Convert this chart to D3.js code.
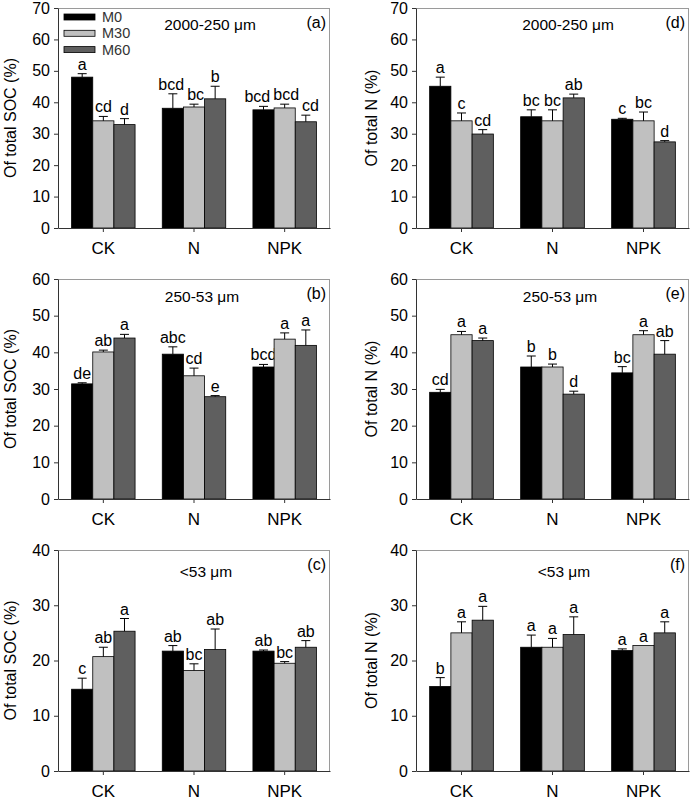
<!DOCTYPE html>
<html><head><meta charset="utf-8">
<script src="https://cdn.jsdelivr.net/npm/d3@7"></script>
<style>body{margin:0;background:#fff}svg{display:block;font-family:Arial,"Liberation Sans",sans-serif}</style>
</head><body><svg id="chart" width="692" height="800"></svg>
<script>
// ---------- data ----------
const categories = ["CK", "N", "NPK"];
const series = ["M0", "M30", "M60"];
const sizeLabels = ["2000-250 \u03bcm", "250-53 \u03bcm", "<53 \u03bcm"];
const yTitles = ["Of total SOC (%)", "Of total N (%)"];
const panelTags = [["(a)", "(b)", "(c)"], ["(d)", "(e)", "(f)"]];
const yMaxByRow = [70, 60, 40];
const yTickStep = 10;

// rows = categories (CK, N, NPK), columns = series (M0, M30, M60)
const socMacro        = [[48.0, 34.1, 32.9], [38.1, 38.5, 41.1], [37.6, 38.2, 33.8]];
const socMacroErr     = [[1.1, 1.4, 1.9], [4.6, 0.9, 4.0], [1.1, 1.2, 2.1]];
const socMacroLetters = [["a", "cd", "d"], ["bcd", "bc", "b"], ["bcd", "bcd", "cd"]];

const socMicro        = [[31.4, 40.1, 43.9], [39.5, 33.6, 27.9], [36.0, 43.6, 41.9]];
const socMicroErr     = [[0.3, 0.5, 1.0], [2.0, 2.1, 0.3], [0.7, 1.7, 4.2]];
const socMicroLetters = [["de", "ab", "a"], ["abc", "cd", "e"], ["bcd", "a", "a"]];

const socSilt         = [[14.8, 20.7, 25.3], [21.7, 18.2, 22.0], [21.7, 19.5, 22.4]];
const socSiltErr      = [[2.0, 1.7, 2.3], [1.0, 1.2, 3.7], [0.2, 0.3, 1.2]];
const socSiltLetters  = [["c", "ab", "a"], ["ab", "bc", "ab"], ["ab", "bc", "ab"]];

const nMacro          = [[45.1, 34.1, 29.9], [35.4, 34.1, 41.4], [34.6, 34.1, 27.4]];
const nMacroErr       = [[2.9, 2.5, 1.4], [2.2, 3.5, 1.2], [0.3, 2.8, 0.4]];
const nMacroLetters   = [["a", "c", "cd"], ["bc", "bc", "ab"], ["c", "bc", "d"]];

const nMicro          = [[29.1, 44.8, 43.2], [36.0, 36.0, 28.6], [34.4, 44.8, 39.5]];
const nMicroErr       = [[0.8, 0.9, 0.7], [3.0, 0.8, 0.8], [1.7, 1.1, 3.7]];
const nMicroLetters   = [["cd", "a", "a"], ["b", "b", "d"], ["bc", "a", "ab"]];

const nSilt           = [[15.3, 25.0, 27.3], [22.4, 22.4, 24.7], [21.8, 22.7, 25.0]];
const nSiltErr        = [[1.6, 2.0, 2.5], [2.2, 1.6, 3.2], [0.3, 0.0, 2.0]];
const nSiltLetters    = [["b", "a", "a"], ["a", "a", "a"], ["a", "a", "a"]];

// ---------- layout / style ----------
const seriesColors = {M0: "#000000", M30: "#c0c0c0", M60: "#5f5f5f"};
const colX = [[58, 330], [416, 689]];
const rowY = [[8, 228], [279, 499], [550, 771]];
const titleDx = [152, 144, 148];
const titleDy = [22, 23, 27];
const yTitleDx = [-42, -39];

const panels = [
  {col: 0, row: 0, v: socMacro, e: socMacroErr, l: socMacroLetters},
  {col: 0, row: 1, v: socMicro, e: socMicroErr, l: socMicroLetters},
  {col: 0, row: 2, v: socSilt, e: socSiltErr, l: socSiltLetters},
  {col: 1, row: 0, v: nMacro, e: nMacroErr, l: nMacroLetters},
  {col: 1, row: 1, v: nMicro, e: nMicroErr, l: nMicroLetters},
  {col: 1, row: 2, v: nSilt, e: nSiltErr, l: nSiltLetters}
];

const svg = d3.select("#chart");
const AX = "#333", FR = "#9a9a9a";
const FONT = "Arial, 'Liberation Sans', sans-serif";

panels.forEach(p => {
  const [x0, x1] = colX[p.col], [y0, y1] = rowY[p.row];
  const w = x1 - x0, h = y1 - y0;
  const ymax = yMaxByRow[p.row];
  const g = svg.append("g").attr("transform", `translate(${x0},${y0})`);

  const x = d3.scaleBand().domain(categories).range([0, w]).paddingInner(0.3).paddingOuter(0.15);
  const xs = d3.scaleBand().domain(series).range([0, x.bandwidth()]);
  const y = d3.scaleLinear().domain([0, ymax]).range([h, 0]);

  // frame (top, right)
  g.append("line").attr("x1", 0).attr("x2", w).attr("y1", 0.5).attr("y2", 0.5).attr("stroke", FR);
  g.append("line").attr("x1", w - 0.5).attr("x2", w - 0.5).attr("y1", 0).attr("y2", h).attr("stroke", FR);

  // bars, error bars, letters
  categories.forEach((c, i) => {
    const labels = [];
    series.forEach((s, j) => {
      const v = p.v[i][j], e = p.e[i][j];
      const bx = x(c) + xs(s), bw = xs.bandwidth(), cx = bx + bw / 2;
      g.append("rect").attr("x", bx).attr("y", y(v)).attr("width", bw).attr("height", y(0) - y(v))
        .attr("fill", seriesColors[s]).attr("stroke", "#000").attr("stroke-width", 0.8);
      if (e > 0) {
        g.append("line").attr("x1", cx).attr("x2", cx).attr("y1", y(v)).attr("y2", y(v + e))
          .attr("stroke", "#000").attr("stroke-width", 1);
        g.append("line").attr("x1", cx - 4.5).attr("x2", cx + 4.5).attr("y1", y(v + e)).attr("y2", y(v + e))
          .attr("stroke", "#000").attr("stroke-width", 1);
      }
      const t = g.append("text").attr("x", cx).attr("y", y(v + e) - 4).attr("text-anchor", "middle")
        .attr("font-size", 16).attr("fill", "#000").text(p.l[i][j]);
      labels.push({t, cx, by: y(v + e) - 4, w: t.node().getComputedTextLength()});
    });
    // push apart neighbouring letters that would collide
    for (let it = 0; it < 6; it++) {
      for (let j = 0; j < labels.length - 1; j++) {
        const a = labels[j], b = labels[j + 1];
        if (Math.abs(a.by - b.by) < 13) {
          const ov = (a.cx + a.w / 2 + 3) - (b.cx - b.w / 2);
          if (ov > 0) { a.cx -= ov / 2; b.cx += ov / 2; }
        }
      }
    }
    labels.forEach(L => L.t.attr("x", L.cx));
  });

  // axes
  const ya = g.append("g").call(d3.axisLeft(y).tickValues(d3.range(0, ymax + 1, yTickStep))
    .tickSize(4).tickSizeOuter(0).tickPadding(4));
  ya.select(".domain").attr("stroke", AX);
  ya.selectAll(".tick line").attr("stroke", AX);
  ya.selectAll("text").attr("font-size", 16).attr("font-family", FONT).attr("fill", "#000");

  const xa = g.append("g").attr("transform", `translate(0,${h})`)
    .call(d3.axisBottom(x).tickSize(4).tickSizeOuter(0).tickPadding(10));
  xa.select(".domain").attr("stroke", AX);
  xa.selectAll(".tick line").attr("stroke", AX);
  xa.selectAll("text").attr("font-size", 17).attr("font-family", FONT).attr("fill", "#000");

  // titles
  g.append("text").attr("x", titleDx[p.row]).attr("y", titleDy[p.row]).attr("text-anchor", "middle")
    .attr("font-size", 15.5).text(sizeLabels[p.row]);
  g.append("text").attr("x", w - 4).attr("y", 20).attr("text-anchor", "end")
    .attr("font-size", 16).text(panelTags[p.col][p.row]);

  // y title
  g.append("text").attr("transform", `translate(${yTitleDx[p.col]},${h / 2}) rotate(-90)`)
    .attr("text-anchor", "middle").attr("font-size", 16).text(yTitles[p.col]);

  // legend (panel a)
  if (p.col === 0 && p.row === 0) {
    const lg = g.append("g").attr("transform", "translate(6,0)");
    series.forEach((s, j) => {
      const cy = 9 + j * 16.3;
      lg.append("rect").attr("x", 0).attr("y", cy - 3).attr("width", 31).attr("height", 6)
        .attr("fill", seriesColors[s]).attr("stroke", "#000").attr("stroke-width", 0.8);
      lg.append("text").attr("x", 38).attr("y", cy + 5).attr("font-size", 14.5).attr("fill", "#333").text(s);
    });
  }
});
</script></body></html>
